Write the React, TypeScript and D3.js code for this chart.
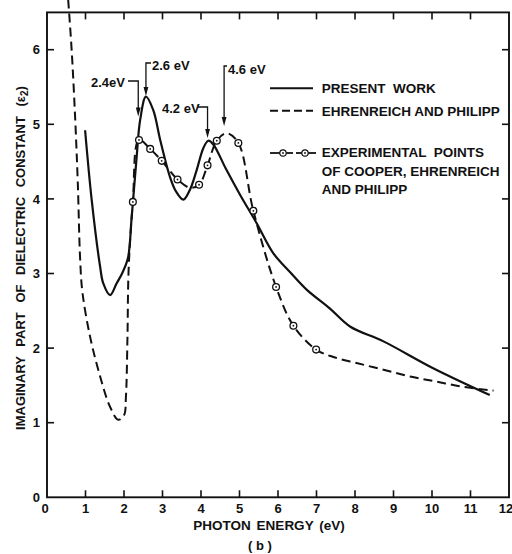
import React from "react";
import * as d3 from "d3";

// ---- data ----
const presentWorkX = [0.99, 1.16, 1.38, 1.46, 1.64, 1.81, 1.95, 2.1, 2.2, 2.33, 2.42, 2.57, 2.76, 2.94, 3.19, 3.35, 3.54, 3.71, 3.89, 4.06, 4.19, 4.32, 4.65, 5.01, 5.45, 5.88, 6.31, 6.75, 7.35, 7.87, 8.74, 10.03, 11.5];
const presentWorkY = [4.92, 3.99, 3.09, 2.87, 2.71, 2.87, 3.0, 3.2, 3.76, 4.57, 5.06, 5.37, 5.19, 4.79, 4.3, 4.1, 3.99, 4.12, 4.39, 4.68, 4.78, 4.73, 4.4, 4.06, 3.67, 3.27, 3.02, 2.78, 2.53, 2.29, 2.09, 1.73, 1.37];

const ehrenreichX = [0.55, 0.64, 0.73, 0.8, 0.86, 0.92, 1.12, 1.38, 1.64, 1.85, 2.0, 2.05, 2.09, 2.12, 2.23, 2.39, 2.68, 2.98, 3.39, 3.71, 3.95, 4.17, 4.41, 4.67, 4.97, 5.36, 5.95, 6.4, 6.99, 7.44, 8.04, 8.74, 9.43, 10.12, 10.81, 11.6];
const ehrenreichY = [6.67, 6.0, 5.1, 4.21, 3.2, 2.75, 2.15, 1.62, 1.21, 1.04, 1.1, 1.35, 2.15, 3.05, 3.96, 4.79, 4.67, 4.51, 4.26, 4.15, 4.19, 4.45, 4.78, 4.88, 4.75, 3.84, 2.82, 2.3, 1.98, 1.88, 1.8, 1.71, 1.62, 1.55, 1.48, 1.43];

const expX = [2.23, 2.39, 2.68, 2.98, 3.39, 3.95, 4.17, 4.41, 4.97, 5.36, 5.95, 6.4, 6.99];
const expY = [3.96, 4.79, 4.67, 4.51, 4.26, 4.19, 4.45, 4.78, 4.75, 3.84, 2.82, 2.3, 1.98];

const xTickValues = [0, 1, 2, 3, 4, 5, 6, 7, 8, 9, 10, 11, 12];
const yTickValues = [0, 1, 2, 3, 4, 5, 6];

const peakLabels = ["2.4eV", "2.6 eV", "4.2 eV", "4.6 eV"];
const peakEnergies = [2.37, 2.57, 4.17, 4.6];
const legendLabels = ["PRESENT  WORK", "EHRENREICH AND PHILIPP"];
const legendExpLines = ["EXPERIMENTAL  POINTS", "OF COOPER, EHRENREICH", "AND PHILIPP"];

const FONT = "'Liberation Sans', Arial, Helvetica, sans-serif";

export default function App() {
  const x = d3.scaleLinear().domain([0, 12]).range([47, 509]);
  const y = d3.scaleLinear().domain([0, 6.5]).range([497.3, 12.4]);

  const line = d3
    .line<[number, number]>()
    .x((d) => x(d[0]))
    .y((d) => y(d[1]))
    .curve(d3.curveCatmullRom.alpha(0.5));

  const solidPts: [number, number][] = presentWorkX.map((v, i) => [v, presentWorkY[i]]);
  const dashPts: [number, number][] = ehrenreichX.map((v, i) => [v, ehrenreichY[i]]);
  const expPts: [number, number][] = expX.map((v, i) => [v, expY[i]]);

  const x0 = x(0), x1 = x(12), y0 = y(0), y1 = y(6.5);
  const tl = 7;

  const ann = [
    { label: peakLabels[0], e: peakEnergies[0], tx: 91, ty: 87, by: 81, tip: 116.5, side: "left", w: 37 },
    { label: peakLabels[1], e: peakEnergies[1], tx: 152, ty: 70, by: 63, tip: 96, side: "right", w: 0 },
    { label: peakLabels[2], e: peakEnergies[2], tx: 162, ty: 112.5, by: 107, tip: 138, side: "left", w: 36 },
    { label: peakLabels[3], e: peakEnergies[3], tx: 228, ty: 74, by: 66, tip: 126, side: "right", w: 0 },
  ];

  const arrowHead = (ax: number, ay: number) =>
    `M${ax},${ay} L${ax - 2.4},${ay - 9} L${ax + 2.4},${ay - 9} Z`;

  return (
    <svg
      width={512}
      height={554}
      style={{ position: "absolute", left: 0, top: 0, background: "#fff" }}
      fontFamily={FONT}
      fontWeight="bold"
    >
      <rect x={0} y={0} width={512} height={554} fill="#fff" />
      {/* frame */}
      <rect x={x0} y={y1} width={x1 - x0} height={y0 - y1} fill="none" stroke="#111" strokeWidth={1.9} />
      {/* ticks */}
      {xTickValues.slice(1, -1).map((t) => (
        <g key={"xt" + t}>
          <line x1={x(t)} x2={x(t)} y1={y0} y2={y0 - tl} stroke="#111" strokeWidth={1.6} />
          <line x1={x(t)} x2={x(t)} y1={y1} y2={y1 + tl} stroke="#111" strokeWidth={1.6} />
        </g>
      ))}
      {yTickValues.slice(1).map((t) => (
        <g key={"yt" + t}>
          <line x1={x0} x2={x0 + tl} y1={y(t)} y2={y(t)} stroke="#111" strokeWidth={1.6} />
          <line x1={x1} x2={x1 - tl} y1={y(t)} y2={y(t)} stroke="#111" strokeWidth={1.6} />
        </g>
      ))}
      {/* tick labels */}
      {xTickValues.map((t) => (
        <text
          key={"xl" + t}
          x={t === 0 ? x(t) - 2 : t === 12 ? x(t) - 3 : x(t)}
          y={512.5}
          textAnchor="middle"
          fontSize={13}
          fill="#111"
        >
          {t}
        </text>
      ))}
      {yTickValues.map((t) => (
        <text key={"yl" + t} x={40} y={y(t)} dy="0.36em" textAnchor="end" fontSize={13} fill="#111">
          {t}
        </text>
      ))}
      {/* axis titles */}
      <text x={269} y={530} textAnchor="middle" fontSize={13.5} wordSpacing={2} fill="#111">
        PHOTON ENERGY (eV)
      </text>
      <text x={260} y={550} textAnchor="middle" fontSize={13} fill="#111">
        ( b )
      </text>
      <text
        transform="translate(25,258) rotate(-90)"
        textAnchor="middle"
        fontSize={13}
        wordSpacing={6}
        fill="#111"
      >
        IMAGINARY PART OF DIELECTRIC CONSTANT (ε
        <tspan fontSize={10} dy={3}>2</tspan>
        <tspan dy={-3}>)</tspan>
      </text>

      {/* curves */}
      <path d={line(dashPts) || ""} fill="none" stroke="#111" strokeWidth={2} strokeDasharray="9,5" />
      <path d={line(solidPts) || ""} fill="none" stroke="#111" strokeWidth={2.2} />
      {expPts.map((p, i) => (
        <g key={"ep" + i}>
          <circle cx={x(p[0])} cy={y(p[1])} r={3.4} fill="#fff" stroke="#111" strokeWidth={1.3} />
          <circle cx={x(p[0])} cy={y(p[1])} r={0.9} fill="#111" />
        </g>
      ))}

      {/* annotations */}
      {ann.map((a, i) => {
        const ax = x(a.e);
        const startX = a.side === "left" ? a.tx + a.w : a.tx - 1;
        return (
          <g key={"an" + i}>
            <text x={a.tx} y={a.ty} fontSize={13} fill="#111">
              {a.label}
            </text>
            <polyline
              points={`${startX},${a.by} ${ax},${a.by} ${ax},${a.tip - 8}`}
              fill="none"
              stroke="#111"
              strokeWidth={1.3}
            />
            <path d={arrowHead(ax, a.tip)} fill="#111" />
          </g>
        );
      })}

      {/* legend */}
      <line x1={270} x2={313} y1={88.3} y2={88.3} stroke="#111" strokeWidth={2} />
      <text x={321.7} y={93.3} fontSize={13.5} fill="#111" style={{ whiteSpace: "pre" }}>
        {legendLabels[0]}
      </text>
      <line x1={270} x2={313} y1={110.7} y2={110.7} stroke="#111" strokeWidth={2} strokeDasharray="8,4" />
      <text x={321.7} y={115.5} fontSize={13.5} fill="#111">
        {legendLabels[1]}
      </text>
      <line x1={270} x2={293} y1={153} y2={153} stroke="#111" strokeWidth={1.8} />
      <line x1={296} x2={316} y1={153} y2={153} stroke="#111" strokeWidth={1.8} />
      {[283, 305].map((cx) => (
        <g key={"lc" + cx}>
          <circle cx={cx} cy={153} r={3.2} fill="#fff" stroke="#111" strokeWidth={1.2} />
          <circle cx={cx} cy={153} r={0.9} fill="#111" />
        </g>
      ))}
      {legendExpLines.map((t, i) => (
        <text key={"le" + i} x={321.7} y={157 + i * 18.5} fontSize={13.5} fill="#111" style={{ whiteSpace: "pre" }}>
          {t}
        </text>
      ))}
    </svg>
  );
}
